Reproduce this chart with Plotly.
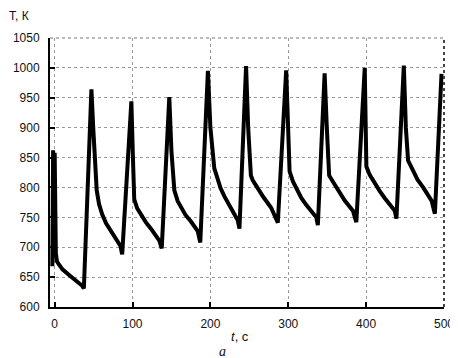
import plotly.graph_objects as go

# time, s
time_s = [-3, -2, -1, 0, 1.5, 3, 5, 10, 20, 30, 35, 37.5,
          47.2, 49.5, 51.5, 54, 57, 61, 66, 72, 80, 84.5, 86.7,
          98.5, 100.5, 102.2, 106, 110.7, 117, 123.6, 130, 134.4, 137.5,
          147.2, 150, 153.7, 158, 162.2, 168, 175, 183.7, 187,
          196.8, 200, 205, 209.4, 213, 218, 224, 230.9, 235.1, 237.3,
          245.8, 248.5, 252, 254.4, 260.9, 268, 278, 284.4, 286.6,
          297.3, 299.5, 301.7, 306, 316.6, 323, 329.5, 336, 338,
          346.7, 349.5, 352.5, 359.6, 366, 372.5, 383, 387.4,
          398.2, 399.5, 400.3, 404.6, 411, 417.5, 424, 430.4, 436.8, 438.9,
          448.4, 451, 453.9, 460.3, 466, 473.2, 478, 484, 488.3,
          496.8]
# temperature, K
temp_K = [668, 862, 700, 858, 690, 676, 672, 663, 652, 642, 636, 631,
          964, 900, 850, 795, 772, 755, 740, 727, 712, 702, 688,
          944, 850, 780, 765, 754, 742, 731, 720, 711, 698,
          951, 860, 795, 777, 766, 754, 743, 727, 708,
          995, 900, 832, 814, 799, 785, 772, 756, 745, 731,
          1003, 900, 820, 812, 798, 784, 766, 749, 741,
          996, 900, 827, 810, 783, 771, 761, 750, 737,
          991, 900, 820, 805, 790, 778, 761, 742,
          1000, 900, 835, 821, 807, 794, 782, 772, 761, 748,
          1004, 900, 845, 828, 813, 800, 790, 778, 756,
          990]

x_ticks = [0, 100, 200, 300, 400, 500]
y_ticks = [600, 650, 700, 750, 800, 850, 900, 950, 1000, 1050]

fig = go.Figure()
fig.add_trace(go.Scatter(x=time_s, y=temp_K, mode="lines",
                         line=dict(color="black", width=4),
                         showlegend=False))

axis_font = dict(family="Liberation Sans, Arial, sans-serif", size=12, color="#111")
fig.update_layout(
    width=458, height=358,
    margin=dict(l=42, r=22, t=30, b=59),
    paper_bgcolor="white", plot_bgcolor="white",
    font=axis_font,
    xaxis=dict(range=[-6, 500], tickvals=x_ticks, ticks="inside", ticklen=5,
               tickcolor="black", tickwidth=1.5, automargin=False,
               showline=True, linecolor="black", linewidth=2,
               showgrid=True, gridcolor="#999", griddash="dot", gridwidth=1,
               zeroline=False, ticklabelstandoff=5, tickfont=axis_font),
    yaxis=dict(range=[600, 1050], tickvals=y_ticks, ticks="inside", ticklen=5,
               tickcolor="black", tickwidth=1.5, automargin=False,
               showline=True, linecolor="black", linewidth=2,
               showgrid=True, gridcolor="#999", griddash="dot", gridwidth=1,
               zeroline=False, ticklabelstandoff=6, tickfont=axis_font),
    shapes=[
        dict(type="line", xref="paper", yref="paper", x0=0, x1=1, y0=1, y1=1,
             line=dict(color="#777", width=1.2, dash="dot")),
        dict(type="line", xref="paper", yref="paper", x0=1, x1=1, y0=0, y1=1,
             line=dict(color="#444", width=2, dash="dot")),
    ],
    annotations=[
        dict(text="Т, К", xref="paper", yref="paper", x=-0.108, y=1.082,
             xanchor="left", yanchor="middle", showarrow=False,
             font=dict(family="Liberation Sans, Arial, sans-serif", size=12, color="#111")),
        dict(text="<i>t</i>, с", xref="paper", yref="paper", x=0.483, y=-0.108,
             xanchor="center", yanchor="middle", showarrow=False,
             font=dict(family="Liberation Sans, Arial, sans-serif", size=13, color="#111")),
        dict(text="<i>а</i>", xref="paper", yref="paper", x=0.438, y=-0.165,
             xanchor="center", yanchor="middle", showarrow=False, borderpad=0,
             font=dict(family="Liberation Serif, Times New Roman, serif", size=14, color="#111")),
    ],
)

fig.write_html("out.html")
